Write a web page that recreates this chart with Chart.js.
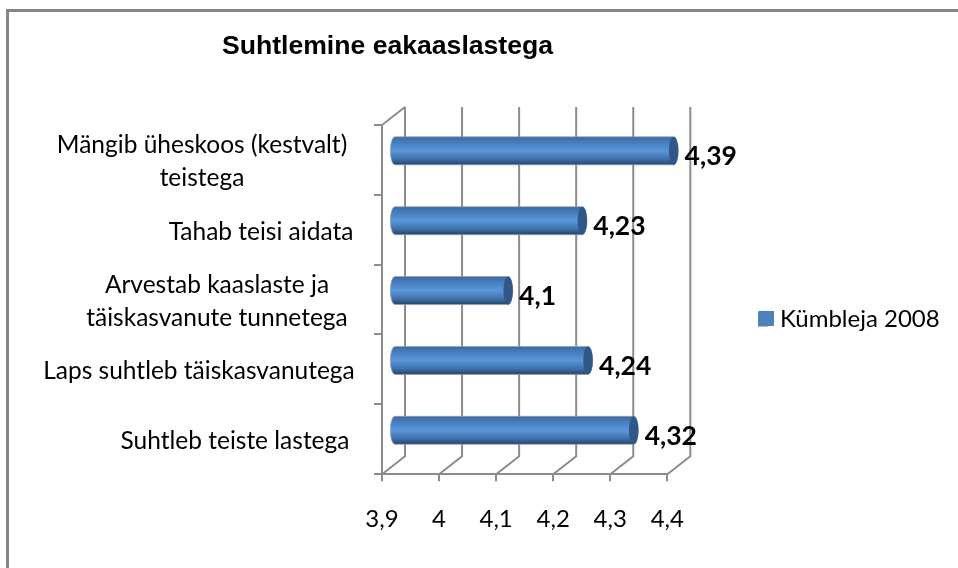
<!DOCTYPE html>
<html><head><meta charset="utf-8">
<style>html,body{margin:0;padding:0;background:#fff}#w{width:958px;height:568px}</style>
<script src="https://cdn.jsdelivr.net/npm/chart.js@4/dist/chart.umd.min.js"></script>
</head><body><div id="w"><canvas id="c" width="958" height="568"></canvas></div>
<script>
const categories = [["Mängib üheskoos (kestvalt)","teistega"],"Tahab teisi aidata",["Arvestab kaaslaste ja","täiskasvanute tunnetega"],"Laps suhtleb täiskasvanutega","Suhtleb teiste lastega"];
const seriesName = "Kümbleja 2008";
const values = [4.39,4.23,4.1,4.24,4.32];
const axisMin = 3.9, axisMax = 4.4, axisStep = 0.1;
const titleText = "Suhtlemine eakaaslastega";

const GRID='#8c8c8c', DX=23, DY=-18, BX=11, BY=-9, LEG='#4f81bd';
const labelCenters=[202,261,217,199,235];
const comma=v=>String(+(+v).toFixed(2)).replace('.',',');

const scene={id:'scene',
 afterLayout(ch){
  const t=ch.titleBlock; t.left=222;t.right=553;t.top=31;t.bottom=63;
  const l=ch.legend; l.left=751;l.right=958;l.top=304;l.bottom=334;
 },
 beforeDraw(ch){
  const c=ch.ctx;
  c.save();c.fillStyle='#fff';c.fillRect(0,0,958,568);
  c.strokeStyle='#868686';c.lineWidth=3;c.strokeRect(7.5,10.5,1100,700);
  const a=ch.chartArea,x=ch.scales.x;
  c.strokeStyle=GRID;c.lineWidth=2;
  x.ticks.forEach((tk,i)=>{const p=x.getPixelForTick(i);
   c.beginPath();c.moveTo(p,a.bottom);c.lineTo(p+DX,a.bottom+DY);c.lineTo(p+DX,a.top+DY);c.stroke();});
  c.beginPath();c.moveTo(a.left,a.top);c.lineTo(a.left+DX,a.top+DY);c.stroke();
  c.restore();
  const y=ch.scales.y;
  y.getLabelItems().forEach((it,i)=>{it.options.textAlign='center';it.options.translation=[labelCenters[i],y.getPixelForTick(i)+2];});
 },
 beforeDatasetDraw(ch){ch.ctx.save();ch.ctx.globalAlpha=0;},
 afterDatasetDraw(ch){
  const c=ch.ctx;c.restore();
  ch.getDatasetMeta(0).data.forEach((b)=>{
   const h=28,cy=b.y+BY,x0=b.base+BX+1,x1=b.x+BX+1,rx=4.7,top=cy-h/2;
   const g=c.createLinearGradient(0,top,0,top+h);
   g.addColorStop(0,'#3a689f');g.addColorStop(.12,'#4076b5');g.addColorStop(.5,'#5b96da');g.addColorStop(.8,'#3f70a9');g.addColorStop(1,'#23436b');
   c.save();c.fillStyle=g;
   c.beginPath();c.ellipse(x0,cy,rx,h/2,0,Math.PI/2,Math.PI*1.5);c.lineTo(x1,top);c.ellipse(x1,cy,rx,h/2,0,-Math.PI/2,Math.PI/2);c.closePath();c.fill();
   c.strokeStyle='rgba(150,160,175,.7)';c.lineWidth=1;c.stroke();
   c.fillStyle='#2f5788';c.beginPath();c.ellipse(x1,cy,rx,h/2,0,0,Math.PI*2);c.fill();
   c.restore();
  });
 },
 afterDraw(ch){
  const c=ch.ctx,m=ch.getDatasetMeta(0);
  c.save();c.fillStyle=LEG;c.fillRect(759,311,15,15);
  c.fillStyle='#000';c.font='bold 26.5px Lato';c.textBaseline='middle';c.textAlign='left';
  m.data.forEach((b,i)=>c.fillText(comma(values[i]),b.x+23,b.y-3));
  c.restore();
 }
};

new Chart(document.getElementById('c'),{
 type:'bar',
 data:{labels:categories,datasets:[{label:seriesName,data:values,base:axisMin,backgroundColor:LEG,barPercentage:.4,categoryPercentage:1}]},
 options:{indexAxis:'y',responsive:false,animation:false,
  layout:{padding:{left:0,right:92,top:93,bottom:10}},
  scales:{
   x:{min:axisMin,max:axisMax,
    ticks:{stepSize:axisStep,autoSkip:false,color:'#000',font:{family:'Lato',size:24},padding:24,maxRotation:0,callback:v=>comma(v)},
    grid:{drawOnChartArea:false,color:GRID,tickLength:7,lineWidth:2,tickColor:GRID},border:{color:GRID,width:2}},
   y:{afterFit(s){s.width=382;},
    ticks:{color:'#000',font:{family:'Lato',size:24.5,lineHeight:1.34},padding:0,autoSkip:false},
    grid:{drawOnChartArea:false,color:GRID,tickLength:8,lineWidth:2,tickColor:GRID},border:{color:GRID,width:2}}
  },
  plugins:{
   title:{display:true,text:titleText,color:'#000',font:{family:'Liberation Sans',size:26.6,weight:'bold'},padding:0},
   legend:{display:true,position:'right',labels:{boxWidth:10,boxHeight:15,padding:7,color:'#000',font:{family:'Lato',size:24}}},
   tooltip:{enabled:false}
  }
 },
 plugins:[scene]
});
</script></body></html>
